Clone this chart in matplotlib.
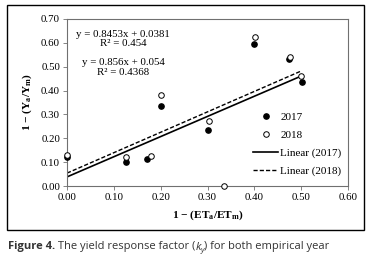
import matplotlib
matplotlib.use('Agg')
import matplotlib.pyplot as plt
from matplotlib.patches import Rectangle
import numpy as np

plt.rcParams['font.family'] = 'Liberation Serif'
plt.rcParams['mathtext.fontset'] = 'custom'
plt.rcParams['mathtext.rm'] = 'Liberation Serif'
plt.rcParams['mathtext.it'] = 'Liberation Serif:italic'
plt.rcParams['mathtext.bf'] = 'Liberation Serif:bold'

# data
x_2017 = [0.0, 0.125, 0.17, 0.20, 0.30, 0.40, 0.475, 0.502]
y_2017 = [0.123, 0.099, 0.112, 0.337, 0.233, 0.594, 0.534, 0.435]
x_2018 = [0.0, 0.125, 0.18, 0.20, 0.303, 0.335, 0.401, 0.477, 0.50]
y_2018 = [0.129, 0.120, 0.126, 0.380, 0.272, 0.0, 0.625, 0.541, 0.461]

# trend lines from the printed equations
slope_2017, icpt_2017 = 0.8453, 0.0381
slope_2018, icpt_2018 = 0.856, 0.054
trend_x = np.array([0.0, 0.5])

xticks = [0.0, 0.1, 0.2, 0.3, 0.4, 0.5, 0.6]
yticks = [0.0, 0.1, 0.2, 0.3, 0.4, 0.5, 0.6, 0.7]

fig = plt.figure(figsize=(3.71, 2.56), dpi=100)
ax = fig.add_axes([67/371, 1-186/256, 281/371, 167/256])

# outer frame round the chart
fig.patches.append(Rectangle((7/371, 1-230/256), 357/371, 225/256, transform=fig.transFigure,
                             fill=False, edgecolor='black', linewidth=1.0))

l1, = ax.plot(trend_x, slope_2017*trend_x + icpt_2017, color='black', lw=1.2, label='Linear (2017)')
l2, = ax.plot(trend_x, slope_2018*trend_x + icpt_2018, color='black', lw=1.0, ls=(0, (3, 1.5)), label='Linear (2018)')
s1, = ax.plot(x_2017, y_2017, 'o', color='black', ms=3.8, label='2017', zorder=3, clip_on=False)
s2, = ax.plot(x_2018, y_2018, 'o', mfc='white', mec='black', mew=0.7, ms=4.0, label='2018', zorder=3, clip_on=False)

ax.text(0.12, 0.616, 'y = 0.8453x + 0.0381\nR² = 0.454', ha='center', va='center', fontsize=7.8, linespacing=1.05)
ax.text(0.12, 0.497, 'y = 0.856x + 0.054\nR² = 0.4368', ha='center', va='center', fontsize=7.8, linespacing=1.05)

ax.legend(handles=[s1, s2, l1, l2], loc='lower right', bbox_to_anchor=(1.0, 0.02),
          frameon=False, fontsize=8, handlelength=2.3, handletextpad=0.15, labelspacing=0.72,
          borderaxespad=0.2)

ax.set_xlim(0, 0.6)
ax.set_ylim(0, 0.7)
ax.set_xticks(xticks)
ax.set_yticks(yticks)
ax.set_xticklabels(['%.2f' % v for v in xticks])
ax.set_yticklabels(['%.2f' % v for v in yticks])
ax.tick_params(labelsize=7.8, length=3, width=0.6, color='#707070', pad=2)
for sp in ax.spines.values():
    sp.set_color('#707070')
    sp.set_linewidth(0.8)

ax.set_xlabel(r'1 − (ET$_{\mathbf{a}}$/ET$_{\mathbf{m}}$)', fontsize=8.2, fontweight='bold', labelpad=5)
ax.set_ylabel(r'1 − (Y$_{\mathbf{a}}$/Y$_{\mathbf{m}}$)', fontsize=8.2, fontweight='bold', labelpad=5)

# caption below the frame, pieced together
fig.canvas.draw()
r = fig.canvas.get_renderer()
cap_y = 1 - 247/256
pieces = [('Figure 4.', dict(fontweight='bold')),
          (' The yield response factor (', {}),
          ('k', dict(style='italic')),
          ('y', dict(style='italic', fontsize=5.5, sub=True)),
          (') for both empirical year', {})]
xpos = 8/371
for txt, kw in pieces:
    fs = kw.pop('fontsize', 8)
    sub = kw.pop('sub', False)
    t = fig.text(xpos, cap_y - (0.012 if sub else 0), txt, fontsize=fs, family='Open Sans',
                 color='#333333', va='center', ha='left', **kw)
    bb = t.get_window_extent(renderer=r)
    xpos += bb.width / fig.bbox.width

fig.savefig('out.png', dpi=100)
